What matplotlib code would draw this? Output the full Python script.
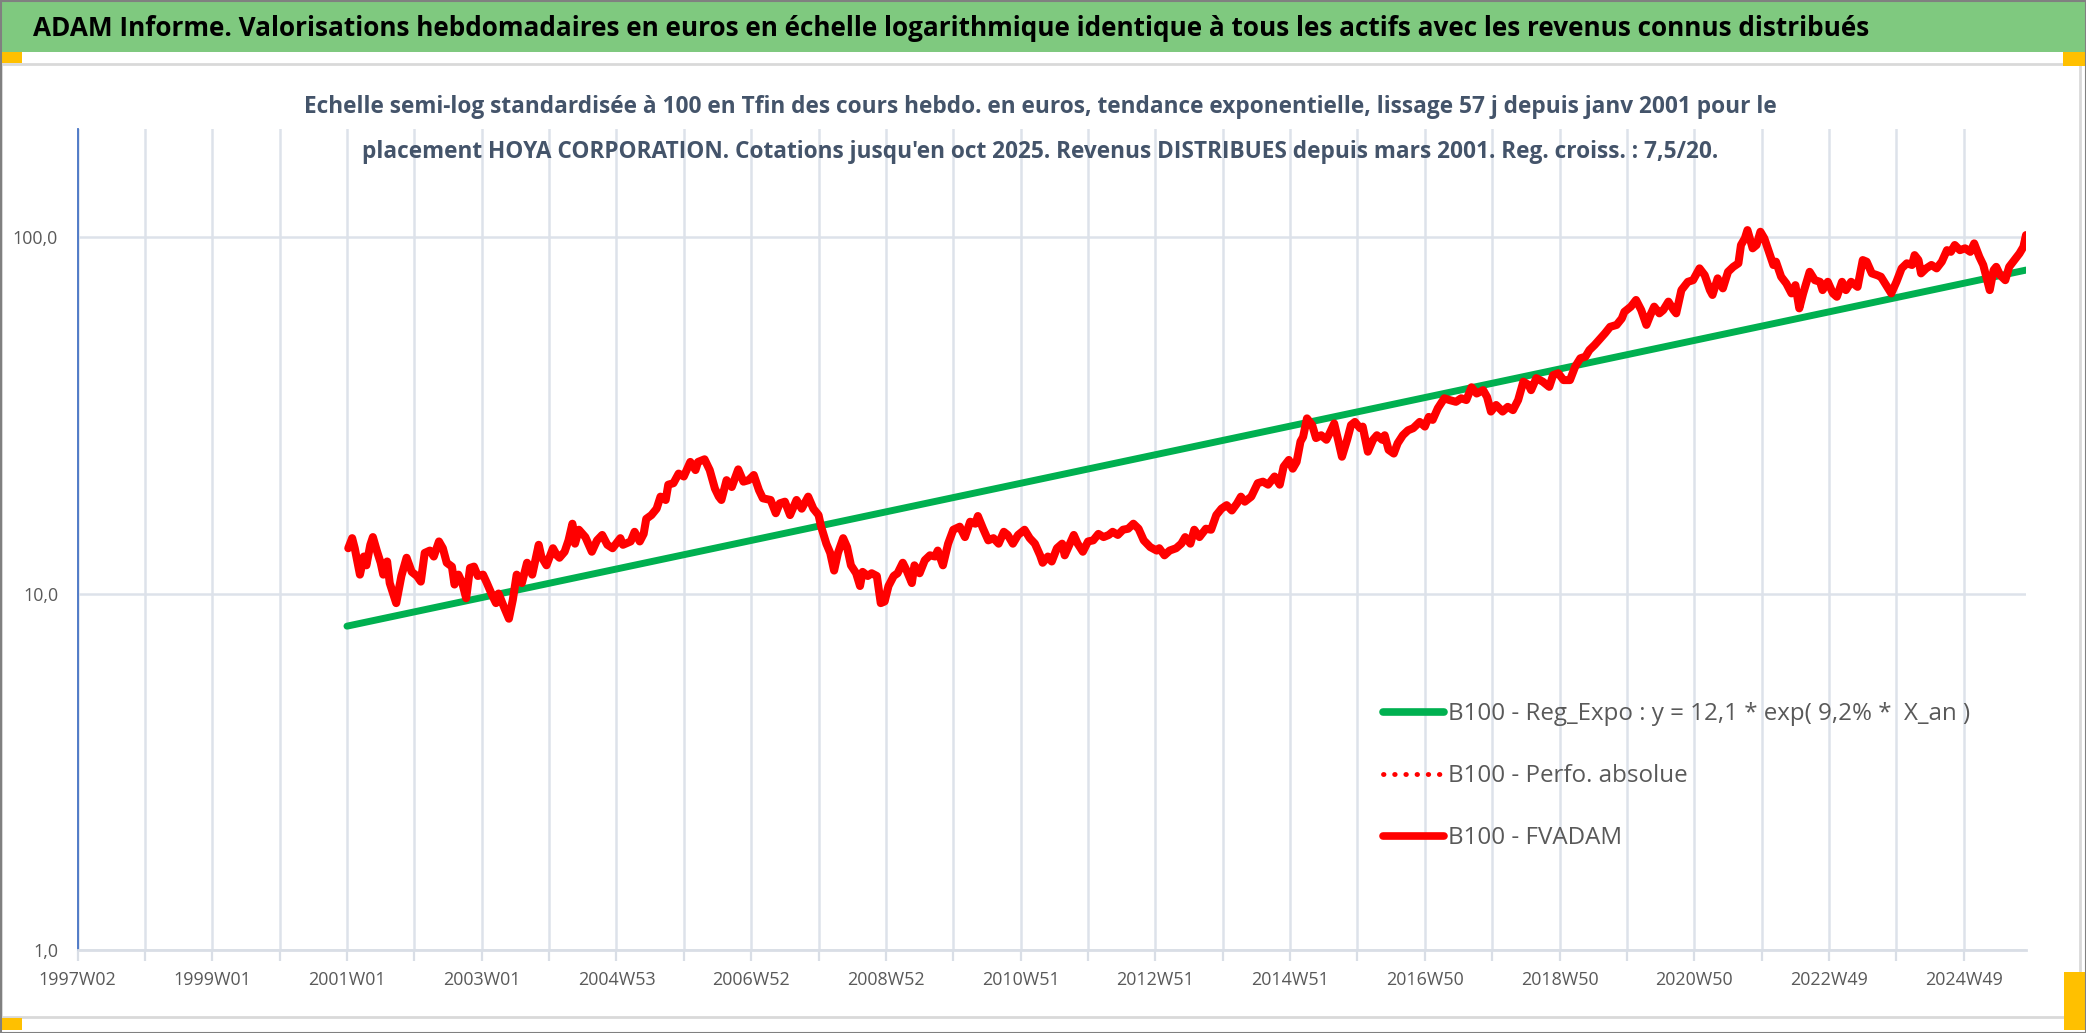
import matplotlib
matplotlib.use("Agg")
import matplotlib.pyplot as plt
from matplotlib.patches import Rectangle
from matplotlib.lines import Line2D
from matplotlib.ticker import NullLocator

W, H = 2086, 1033

# axe des catégories : index de semaine depuis 1997W02
week_labels = ["1997W02", "1999W01", "2001W01", "2003W01", "2004W53", "2006W52",
               "2008W52", "2010W51", "2012W51", "2014W51", "2016W50", "2018W50",
               "2020W50", "2022W49", "2024W49"]
label_step = 104
grid_step = 52
last_week = 1504

# régression exponentielle (extrémités)
trend_weeks = [208, 1504]
trend_values = [8.1, 80.8]

# B100 - FVADAM
fvadam_weeks = [
    209, 212, 214, 218, 221, 223, 226, 228, 231, 234, 236, 239, 241, 246, 250, 254, 258, 262, 265, 268,
    272, 275, 279, 282, 285, 289, 291, 294, 297, 300, 303, 306, 309, 313, 316, 320, 323, 325, 329, 333,
    336, 339, 343, 347, 351, 356, 358, 362, 367, 370, 372, 376, 379, 382, 384, 387, 392, 397, 401, 405,
    409, 413, 419, 421, 427, 430, 434, 437, 439, 443, 447, 450, 454, 456, 460, 464, 468, 473, 477, 479,
    484, 488, 492, 495, 497, 501, 505, 510, 514, 518, 522, 526, 529, 535, 539, 542,
    546, 550, 555, 559, 564, 568, 572, 574, 578, 581, 584, 587, 591, 594, 597, 601, 604, 606, 610, 613,
    617, 620, 623, 626, 630, 633, 637, 640, 644, 646, 650, 654, 658, 662, 664, 668, 672, 676, 681, 685,
    689, 693, 695, 699, 703, 707, 711, 715, 718, 722, 726, 731, 735, 739, 743, 745, 749, 752, 756, 760,
    762, 766, 769, 772, 776, 780, 784, 788, 792, 796, 799, 803, 807, 811, 815, 819, 823, 828, 833, 835,
    839, 843, 848, 852, 855, 859, 862, 866, 871,
    875, 879, 883, 887, 891, 895, 898, 901, 906, 911, 915, 919, 924, 928, 931, 935, 938, 941, 944, 946,
    949, 953, 956, 960, 964, 967, 970, 973, 976, 980, 983, 986, 990, 992, 996, 1000, 1003, 1007, 1009, 1012,
    1016, 1019, 1023, 1027, 1031, 1036, 1040, 1043, 1046, 1050, 1055, 1059, 1064, 1068, 1072, 1076, 1080, 1085, 1088, 1091,
    1095, 1100, 1104, 1108, 1112, 1116, 1120, 1122, 1126, 1131, 1136, 1139, 1143, 1147, 1152, 1156, 1160, 1164, 1167, 1171,
    1179, 1183, 1188, 1192, 1194, 1199, 1203, 1207, 1211, 1214, 1217, 1221, 1224, 1228, 1232, 1234, 1238, 1243, 1247, 1252,
    1256, 1260, 1262, 1266, 1270, 1274, 1278, 1282, 1284, 1287, 1289, 1293, 1296, 1299, 1302, 1306, 1309, 1311, 1315, 1319,
    1323, 1326, 1329, 1332, 1337, 1341, 1345, 1347, 1351, 1355, 1358, 1362, 1365, 1369, 1374, 1378, 1381, 1385, 1389, 1392,
    1396, 1400, 1404, 1408, 1412, 1416, 1418, 1421, 1423, 1427, 1431, 1435, 1439, 1443, 1446, 1449, 1453, 1457, 1461, 1464,
    1468, 1471, 1473, 1476, 1479, 1481, 1484, 1488, 1491, 1495, 1499, 1502, 1504]
fvadam_values = [
    13.4, 14.3, 13.4, 11.3, 12.7, 12.0, 13.7, 14.4, 13.2, 12.2, 11.3, 12.3, 10.7, 9.4, 11.2, 12.6, 11.5, 11.2, 10.8, 13.0,
    13.2, 12.7, 14.0, 13.4, 12.2, 11.9, 10.6, 11.3, 10.7, 9.7, 11.8, 11.9, 11.2, 11.3, 10.7, 9.9, 9.4, 10.0, 9.2, 8.5,
    9.6, 11.3, 10.7, 12.2, 11.3, 13.7, 12.7, 12.0, 13.4, 12.8, 12.6, 13.1, 14.1, 15.7, 13.8, 15.1, 14.4, 13.1, 14.1, 14.6,
    13.7, 13.4, 14.3, 13.7, 14.0, 14.9, 14.0, 14.7, 16.2, 16.6, 17.3, 18.7, 18.3, 20.2, 20.4, 21.7, 21.3, 23.4, 22.2, 23.4,
    23.8, 22.2, 19.7, 18.7, 18.3, 20.8, 19.9, 22.3, 20.6, 20.8, 21.5, 19.5, 18.5, 18.3, 16.8, 17.9,
    18.1, 16.6, 18.3, 17.3, 18.7, 17.3, 16.6, 15.4, 13.8, 13.0, 11.6, 13.0, 14.3, 13.5, 12.0, 11.4, 10.5, 11.5, 11.2, 11.4,
    11.2, 9.4, 9.5, 10.5, 11.2, 11.4, 12.2, 11.6, 10.7, 12.0, 11.4, 12.4, 12.8, 12.7, 13.2, 12.0, 13.8, 15.1, 15.4, 14.4,
    15.9, 15.7, 16.5, 15.2, 14.1, 14.3, 13.8, 14.9, 14.6, 13.8, 14.6, 15.1, 14.3, 13.8, 12.8, 12.2, 12.7, 12.3, 13.4, 13.8,
    12.8, 13.8, 14.6, 13.8, 13.1, 14.0, 14.1, 14.7, 14.4, 14.6, 14.9, 14.6, 15.1, 15.2, 15.7, 15.2, 14.1, 13.5, 13.2, 13.4,
    12.8, 13.2, 13.4, 13.8, 14.4, 13.8, 15.1, 14.4, 15.2,
    15.1, 16.6, 17.3, 17.7, 17.1, 17.9, 18.7, 18.1, 18.7, 20.4, 20.6, 20.2, 21.3, 20.2, 22.7, 23.7, 22.4, 23.4, 26.7, 27.5,
    31.0, 29.7, 27.3, 27.8, 27.0, 28.4, 30.0, 27.0, 24.2, 27.0, 29.7, 30.3, 29.1, 29.4, 25.0, 27.0, 27.8, 27.0, 27.8, 25.3,
    24.7, 26.4, 27.8, 28.7, 29.1, 30.3, 29.4, 31.3, 30.7, 33.1, 35.3, 34.9, 34.5, 35.3, 34.9, 37.9, 36.4, 37.2, 35.6, 32.4,
    33.8, 32.4, 33.4, 32.7, 34.9, 39.3, 38.5, 37.2, 40.2, 39.3, 38.0, 41.0, 41.5, 39.7, 39.7, 43.3, 45.7, 46.2, 48.2, 49.8,
    53.7, 56.0, 56.7, 59.1, 61.7, 63.8, 66.6, 62.4, 56.7, 60.4, 63.8, 61.1, 62.4, 65.9, 62.4, 61.1, 71.0, 74.9, 75.7, 81.7,
    78.2, 71.0, 68.8, 76.6, 71.8, 79.9, 82.5, 84.4, 95.0, 99.2, 104.6, 93.0, 95.0, 103.5, 99.2, 90.0, 83.5, 85.3, 77.4, 74.1,
    69.5, 73.3, 63.1, 69.5, 79.9, 75.7, 74.9, 71.0, 74.9, 69.5, 68.0, 74.9, 71.0, 74.9, 72.5, 86.2, 85.3, 79.1, 78.2, 77.4,
    73.3, 69.5, 74.9, 81.7, 84.4, 83.5, 89.0, 86.2, 79.1, 81.7, 83.5, 81.7, 85.3, 91.9, 90.9, 95.0, 91.9, 93.0, 90.9, 96.0,
    88.0, 83.5, 78.2, 71.0, 80.8, 82.5, 78.2, 75.7, 82.5, 86.2, 90.0, 93.9, 101.3]

title = ("ADAM Informe. Valorisations hebdomadaires en euros en échelle logarithmique "
         "identique à tous les actifs avec les revenus connus distribués")
sub1 = ("Echelle semi-log standardisée à 100 en Tfin des cours hebdo. en euros, tendance "
        "exponentielle, lissage 57 j depuis janv 2001 pour le")
sub2 = ("placement HOYA CORPORATION. Cotations jusqu'en oct 2025. Revenus DISTRIBUES "
        "depuis mars 2001. Reg. croiss. : 7,5/20.")
leg_labels = ["B100 - Reg_Expo : y = 12,1 * exp( 9,2% *  X_an )",
              "B100 - Perfo. absolue",
              "B100 - FVADAM"]

FONT = ["Open Sans", "DejaVu Sans"]
plt.rcParams["font.family"] = FONT
GREY = "#595959"

fig = plt.figure(figsize=(W / 100, H / 100), dpi=100)
renderer = fig.canvas.get_renderer()


def fx(px):
    return px / W


def fy(py):
    return 1 - py / H


def fit_size(txt, width_px, **kw):
    t = fig.text(0, 0, txt, fontsize=20, **kw)
    w = t.get_window_extent(renderer).width
    t.remove()
    return 20 * width_px / w


def box(x0, y0, x1, y1, **kw):
    fig.add_artist(Rectangle((fx(x0), fy(y1)), (x1 - x0) / W, (y1 - y0) / H,
                             transform=fig.transFigure, **kw))


# cadre et bandeau
box(0, 0, W, 52, facecolor="#7FC97F", edgecolor="none")
box(1, 64, 2080, 1017, facecolor="none", edgecolor="#D9D9D9", lw=2)
for x0, y0, x1, y1 in [(0, 52, 22, 63), (2063, 52, 2086, 66), (0, 1018, 22, 1030), (2064, 972, 2086, 1030)]:
    box(x0, y0, x1, y1, facecolor="#FFC000", edgecolor="none")
box(0.5, 0.5, W - 0.5, H - 0.5, facecolor="none", edgecolor="#808080", lw=1.5)

# textes
fs_title = fit_size(title, 1840, fontweight="bold")
fig.text(fx(33), fy(28), title, fontsize=fs_title, fontweight="bold", color="black",
         ha="left", va="center")
fs_sub = fit_size(sub1, 1473, fontweight="bold")
fig.text(fx(1040), fy(107), sub1, fontsize=fs_sub, fontweight="bold", color="#44546A",
         ha="center", va="center")
fig.text(fx(1040), fy(152), sub2, fontsize=fs_sub, fontweight="bold", color="#44546A",
         ha="center", va="center")

# graphique
ax = fig.add_axes([fx(77.5), fy(950), (2026 - 77.5) / W, (950 - 129) / H])
ax.set_facecolor("none")
ax.plot(trend_weeks, trend_values, color="#00B050", lw=5, solid_capstyle="round", zorder=3)
ax.plot(fvadam_weeks, fvadam_values, color="#FF0000", lw=5.8, solid_joinstyle="round",
        solid_capstyle="round", zorder=4)

ax.set_yscale("log")
ax.set_ylim(1, 201)
ax.set_xlim(0, last_week)
ax.set_yticks([1, 10, 100])
ax.set_yticklabels(["1,0", "10,0", "100,0"])
ax.yaxis.set_minor_locator(NullLocator())

major = list(range(0, last_week + 1, label_step))
minor = list(range(grid_step, last_week + 1, label_step))
ax.set_xticks(major)
ax.set_xticklabels(week_labels)
ax.set_xticks(minor, minor=True)

fs_tick = fit_size("1997W02", 78)
ax.tick_params(axis="x", which="both", length=8, width=1.6, color="#D9DEE6",
               labelsize=fs_tick, labelcolor=GREY, pad=7)
ax.tick_params(axis="y", length=0, labelsize=fs_tick, labelcolor=GREY, pad=14)
ax.grid(True, axis="x", which="both", color="#DDE2EA", lw=1.8, zorder=0)
ax.grid(True, axis="y", which="major", color="#DDE2EA", lw=1.8, zorder=0)
ax.set_axisbelow(True)
for s in ["top", "right"]:
    ax.spines[s].set_visible(False)
ax.spines["left"].set_color("#4472C4")
ax.spines["left"].set_linewidth(1.3)
ax.spines["bottom"].set_color("#D9DEE6")
ax.spines["bottom"].set_linewidth(2)

# légende
fs_leg = fit_size(leg_labels[0], 522)
em = fs_leg * 100 / 72
handles = [Line2D([], [], color="#00B050", lw=5.5, solid_capstyle="round"),
           Line2D([], [], color="#FF0000", lw=3.5, linestyle=(0, (0.1, 2.2)), dash_capstyle="round"),
           Line2D([], [], color="#FF0000", lw=5.5, solid_capstyle="round")]
leg = ax.legend(handles, leg_labels, loc="upper left",
                bbox_to_anchor=(fx(1383), fy(717 - 0.62 * em)), bbox_transform=fig.transFigure,
                frameon=False, borderpad=0, borderaxespad=0, fontsize=fs_leg,
                handlelength=61 / em, handletextpad=0.15,
                labelspacing=(67 - 1.2 * em) / em)
for t in leg.get_texts():
    t.set_color(GREY)

fig.savefig("out.png", dpi=100, facecolor="white")
